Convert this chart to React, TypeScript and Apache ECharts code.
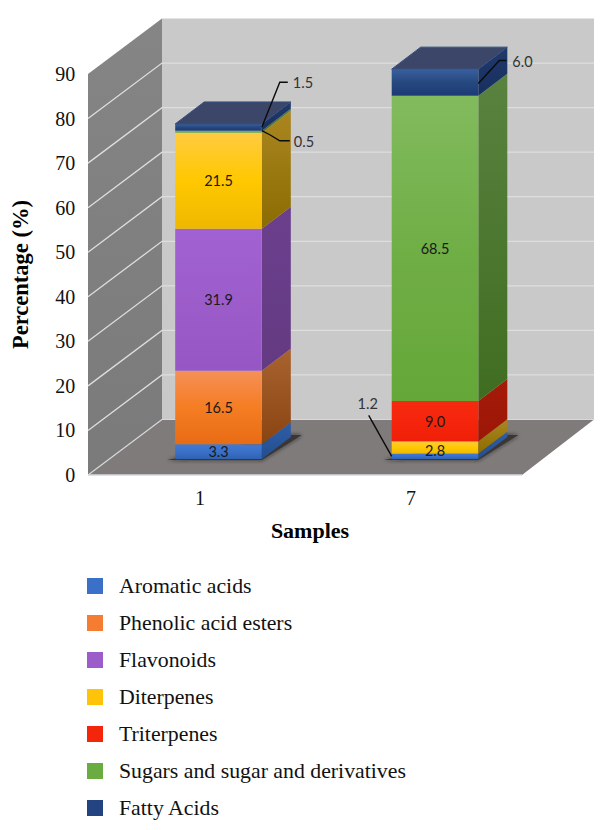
import React, { useEffect, useRef } from "react";
import * as echarts from "echarts";

const categories = ["1", "7"];
const yTicks = [0, 10, 20, 30, 40, 50, 60, 70, 80, 90];

const aromaticAcids = [3.3, 1.2];
const phenolicAcidEsters = [16.5, 0];
const flavonoids = [31.9, 0];
const diterpenes = [21.5, 2.8];
const triterpenes = [0, 9.0];
const sugars = [0.5, 68.5];
const fattyAcids = [1.5, 6.0];

const layerNames = [
  "Aromatic acids",
  "Phenolic acid esters",
  "Flavonoids",
  "Diterpenes",
  "Triterpenes",
  "Sugars and sugar and derivatives",
  "Fatty Acids",
];
const layerValues = [aromaticAcids, phenolicAcidEsters, flavonoids, diterpenes, triterpenes, sugars, fattyAcids];

const frontColors = [
  ["#3f7ad6", "#3a70c8", "#2f62b2"],
  ["#f59058", "#f57d22", "#e86c14"],
  ["#a161d2", "#9c5dcb", "#9656c4"],
  ["#ffcb40", "#ffc800", "#efb800"],
  ["#f62a10", "#f5250c", "#f02008"],
  ["#82bb5e", "#70ae46", "#65a738"],
  ["#38609f", "#27487f", "#1b3a76"],
];
const sideColors = [
  ["#2f5ea8", "#234e8f"],
  ["#a8632f", "#8a4412"],
  ["#6c3f8d", "#643a82"],
  ["#ab8620", "#8b6c02"],
  ["#a51b0a", "#9c1606"],
  ["#5a8240", "#3f6d20"],
  ["#203a6c", "#172f5e"],
];
const legendColors = ["#3a70c8", "#f57d32", "#9c5dcb", "#ffc40a", "#f5250c", "#6aab42", "#234480"];

const callouts = [
  { layer: 6, cat: 0, side: 1, leader: [[0, 0], [18, -45], [26, -45]], text: [31, -45], align: "left" },
  { layer: 5, cat: 0, side: 1, leader: [[0, -1], [8, 3], [18, 9], [28, 9]], text: [32, 10], align: "left" },
  { layer: 6, cat: 1, side: 1, leader: [[0, 1], [21, -22], [28, -22]], text: [34, -21], align: "left" },
  { layer: 0, cat: 1, side: -1, leader: [[0, 0], [-23, -41]], text: [-24, -53], align: "center" },
];

const BAR_LIFT = 16;
const BAR_DX = 29;
const BAR_DY = 22;
const SERIF = "Liberation Serif";
const SANS = "Lato";

const stackBase = (layer: number, cat: number) => {
  let s = 0;
  for (let i = 0; i < layer; i++) s += layerValues[i][cat];
  return s;
};
const topLayer = (cat: number) => {
  let t = 0;
  layerValues.forEach((v, i) => { if (v[cat] > 0) t = i; });
  return t;
};
const vgrad = (stops: string[]) =>
  new echarts.graphic.LinearGradient(0, 0, 0, 1,
    stops.map((c, i) => ({ offset: i / (stops.length - 1), color: c })));

const barEdges = (api: any, cat: number, v: number) => {
  const p = api.coord([cat, v]);
  const half = (api.size([1, 0])[0] * 0.4) / 2;
  return { xl: p[0] - half, xr: p[0] + half, xc: p[0], y: p[1] - BAR_LIFT };
};

const wallsSeries = {
  type: "custom",
  name: "walls",
  silent: true,
  z: 1,
  xAxisIndex: 0,
  yAxisIndex: 0,
  data: yTicks.map((t) => [0, t]),
  renderItem: (params: any, api: any) => {
    const FL = 88, FR = 522, BL = 162, BR = 594;
    const v = api.value(1);
    const y = api.coord([0, v])[1];
    const yTop = api.coord([0, 90])[1];
    const yZero = api.coord([0, 0])[1];
    const D = 55.5;
    const children: any[] = [];
    if (params.dataIndex === 0) {
      children.push(
        { type: "polygon", shape: { points: [[BL, yTop - D], [BR, yTop - D], [BR, yZero - D], [BL, yZero - D]] }, style: { fill: "#c9c9c9" } },
        { type: "polygon", shape: { points: [[FL, yTop], [BL, yTop - D], [BL, yZero - D], [FL, yZero]] }, style: { fill: vgrad(["#858585", "#7a7a7a"]) } },
        { type: "polygon", shape: { points: [[FL, yZero], [FR, yZero], [BR, yZero - D], [BL, yZero - D]] }, style: { fill: "#7f7b7b" } },
        { type: "line", shape: { x1: FL, y1: yZero, x2: FR, y2: yZero }, style: { stroke: "#d8d8d8", lineWidth: 1.5 } },
        { type: "line", shape: { x1: BL, y1: yZero - D, x2: BR, y2: yZero - D }, style: { stroke: "#d8d8d8", lineWidth: 1 } },
        { type: "line", shape: { x1: FL, y1: yZero, x2: BL, y2: yZero - D }, style: { stroke: "#d8d8d8", lineWidth: 1.2 } }
      );
    } else if (v < 90) {
      children.push(
        { type: "polyline", shape: { points: [[FL, y], [BL, y - D], [BR, y - D]] }, style: { stroke: "#dedede", lineWidth: 1.3, fill: "none" } }
      );
    }
    return { type: "group", children };
  },
};

const shadowSeries = {
  type: "custom",
  name: "shadow",
  silent: true,
  z: 2,
  xAxisIndex: 0,
  yAxisIndex: 0,
  data: categories.map((_, i) => [i, 0]),
  renderItem: (params: any, api: any) => {
    const { xl, xr, y } = barEdges(api, params.dataIndex, 0);
    return {
      type: "polygon",
      shape: { points: [[xl - 8, y + 1], [xr, y + 1], [xr + 40, y - 24], [xr + 29, y - 24]] },
      style: { fill: "#3a3635", shadowBlur: 4, shadowColor: "rgba(30,30,30,0.8)" },
    };
  },
};

const layerSeries = layerNames.map((name, layer) => ({
  type: "custom",
  name,
  z: 3 + layer,
  xAxisIndex: 0,
  yAxisIndex: 0,
  itemStyle: { color: legendColors[layer] },
  data: categories.map((_, i) => [i, layerValues[layer][i]]),
  renderItem: (params: any, api: any) => {
    const cat = params.dataIndex;
    const value = layerValues[layer][cat];
    if (!value) return { type: "group", children: [] };
    const base = stackBase(layer, cat);
    const b = barEdges(api, cat, base);
    const t = barEdges(api, cat, base + value);
    const children: any[] = [
      { type: "polygon", shape: { points: [[b.xr, b.y], [b.xr + BAR_DX, b.y - BAR_DY], [b.xr + BAR_DX, t.y - BAR_DY], [b.xr, t.y]] }, style: { fill: vgrad(sideColors[layer]) } },
      { type: "rect", shape: { x: b.xl, y: t.y, width: b.xr - b.xl, height: b.y - t.y }, style: { fill: vgrad(frontColors[layer]) } },
    ];
    if (layer === topLayer(cat)) {
      children.push({
        type: "polygon",
        shape: { points: [[t.xl, t.y], [t.xr, t.y], [t.xr + BAR_DX, t.y - BAR_DY], [t.xl + BAR_DX, t.y - BAR_DY]] },
        style: { fill: "#3b4669", stroke: "#34507f", lineWidth: 1 },
      });
    }
    const isCallout = callouts.some((c) => c.layer === layer && c.cat === cat);
    if (!isCallout) {
      const lowered = value < 5 && cat === 1 ? 3.5 : 0;
      children.push({
        type: "text",
        style: {
          text: value.toFixed(1),
          x: b.xc,
          y: (b.y + t.y) / 2 + lowered,
          align: "center",
          verticalAlign: "middle",
          fontFamily: SANS,
          fontSize: 14.5,
          fill: "#1a1a1a",
        },
      });
    }
    return { type: "group", children };
  },
}));

const calloutSeries = {
  type: "custom",
  name: "callouts",
  silent: true,
  z: 20,
  xAxisIndex: 0,
  yAxisIndex: 0,
  data: callouts.map((c) => [c.cat, layerValues[c.layer][c.cat]]),
  renderItem: (params: any, api: any) => {
    const c = callouts[params.dataIndex];
    const value = layerValues[c.layer][c.cat];
    const base = stackBase(c.layer, c.cat);
    const b = barEdges(api, c.cat, base);
    const t = barEdges(api, c.cat, base + value);
    const ax = c.side > 0 ? b.xr : b.xl;
    const ay = (b.y + t.y) / 2;
    return {
      type: "group",
      children: [
        { type: "polyline", shape: { points: c.leader.map((p) => [ax + p[0], ay + p[1]]) }, style: { stroke: "#0b0b0b", lineWidth: 1.4, fill: "none" } },
        {
          type: "text",
          style: {
            text: value.toFixed(1),
            x: ax + c.text[0],
            y: ay + c.text[1],
            align: c.align,
            verticalAlign: "middle",
            fontFamily: SANS,
            fontSize: 14.5,
            fill: "#333333",
          },
        },
      ],
    };
  },
};

export default function App() {
  const ref = useRef<HTMLDivElement>(null);
  useEffect(() => {
    const chart = echarts.init(ref.current!, undefined, { renderer: "svg" });
    chart.setOption({
      animation: false,
      backgroundColor: "#ffffff",
      grid: [
        { left: 110.25, top: 74, width: 433, height: 401 },
        { left: 94.5, top: 74, width: 422, height: 401 },
      ],
      xAxis: [
        { type: "category", gridIndex: 0, data: categories, axisLine: { show: false }, axisTick: { show: false }, axisLabel: { show: false } },
        {
          type: "category",
          gridIndex: 1,
          data: categories,
          axisLine: { show: false },
          axisTick: { show: false },
          axisLabel: { fontFamily: SERIF, fontSize: 20, color: "#111", margin: 13 },
          name: "Samples",
          nameLocation: "middle",
          nameGap: 44,
          nameTextStyle: { fontFamily: SERIF, fontSize: 22, fontWeight: "bold", color: "#000", padding: [0, 0, 0, 9] },
        },
      ],
      yAxis: [
        {
          type: "value",
          gridIndex: 0,
          min: 0,
          max: 90,
          interval: 10,
          axisLine: { show: false },
          axisTick: { show: false },
          splitLine: { show: false },
          axisLabel: { fontFamily: SERIF, fontSize: 20, color: "#111", margin: 35 },
          name: "Percentage (%)",
          nameLocation: "middle",
          nameRotate: 90,
          nameGap: 78,
          nameTextStyle: { fontFamily: SERIF, fontSize: 22.5, fontWeight: "bold", color: "#000" },
        },
        { type: "value", gridIndex: 1, min: 0, max: 90, interval: 10, show: false },
      ],
      legend: {
        orient: "vertical",
        left: 87,
        top: 575,
        padding: 0,
        icon: "rect",
        itemWidth: 16,
        itemHeight: 16,
        itemGap: 15,
        selectedMode: false,
        data: layerNames,
        textStyle: { fontFamily: SERIF, fontSize: 21.8, color: "#111", padding: [0, 0, 0, 11], lineHeight: 21.5 },
      },
      series: [wallsSeries, shadowSeries, ...layerSeries, calloutSeries],
    });
    return () => chart.dispose();
  }, []);
  return <div ref={ref} style={{ position: "absolute", left: 0, top: 0, width: 612, height: 830 }} />;
}
